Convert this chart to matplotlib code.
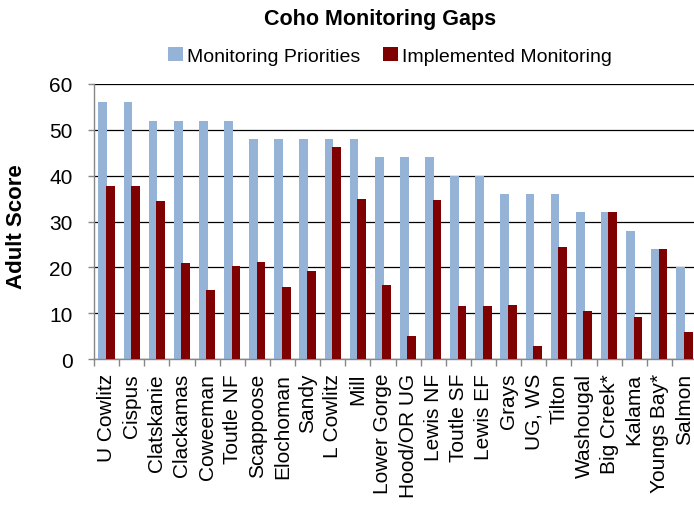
import numpy as np
import matplotlib
matplotlib.use('Agg')
import matplotlib.pyplot as plt
from matplotlib.ticker import FixedLocator

plt.rcParams['font.family'] = ['Liberation Sans', 'DejaVu Sans']

# --- data ---
streams = ['U Cowlitz', 'Cispus', 'Clatskanie', 'Clackamas', 'Coweeman',
           'Toutle NF', 'Scappoose', 'Elochoman', 'Sandy', 'L Cowlitz',
           'Mill', 'Lower Gorge', 'Hood/OR UG', 'Lewis NF', 'Toutle SF',
           'Lewis EF', 'Grays', 'UG, WS', 'Tilton', 'Washougal',
           'Big Creek*', 'Kalama', 'Youngs Bay*', 'Salmon']
priorities = [56, 56, 52, 52, 52, 52, 48, 48, 48, 48, 48, 44, 44, 44,
              40, 40, 36, 36, 36, 32, 32, 28, 24, 20]
implemented = [37.8, 37.8, 34.5, 20.9, 15.0, 20.2, 21.1, 15.7, 19.3, 46.3,
               34.9, 16.1, 5.1, 34.8, 11.6, 11.6, 11.8, 2.8, 24.4, 10.5,
               32.0, 9.2, 24.0, 5.9]

blue = '#95B3D7'
red = '#7F0000'

fig = plt.figure(figsize=(6.94, 5.06), dpi=100)
ax = fig.add_axes([94 / 694, 1 - 360 / 506, 603 / 694, 275 / 506])

x = np.arange(len(streams))
w = 0.35
ax.bar(x - 0.15, priorities, w, color=blue, label='Monitoring Priorities', zorder=2)
ax.bar(x + 0.15, implemented, w, color=red, label='Implemented Monitoring', zorder=3)

ax.set_xlim(-0.5, len(streams) - 0.5)
ax.set_ylim(0, 60)
ax.set_yticks(np.arange(0, 61, 10))
ax.yaxis.grid(True, color='black', linewidth=0.9, zorder=0)
ax.set_axisbelow(True)

ax.set_xticks(x)
ax.set_xticklabels(streams, rotation=90, fontsize=15)
ax.tick_params(axis='x', which='major', length=0, pad=10)
ax.xaxis.set_minor_locator(FixedLocator(np.arange(-0.5, len(streams), 1)))
ax.tick_params(axis='x', which='minor', length=5, color='#868686', width=1)
ax.tick_params(axis='y', labelsize=15, length=4.5, color='#868686', width=1, pad=11)

for s in ['top', 'right']:
    ax.spines[s].set_visible(False)
for s in ['left', 'bottom']:
    ax.spines[s].set_color('#868686')
    ax.spines[s].set_linewidth(1)

fig.text(17 / 694, 1 - 227 / 506, 'Adult Score', fontsize=16, fontweight='bold',
         rotation=90, ha='center', va='center')

fig.text(380 / 694, 1 - 20 / 506, 'Coho Monitoring Gaps', fontsize=15.5,
         fontweight='bold', ha='center', va='center')
fig.legend(loc='center', bbox_to_anchor=(390 / 694, 1 - 57 / 506), ncol=2,
           frameon=False, fontsize=14, handlelength=0.75, handleheight=0.7,
           handletextpad=0.2, columnspacing=1.2)

fig.savefig('out.png', dpi=100)
